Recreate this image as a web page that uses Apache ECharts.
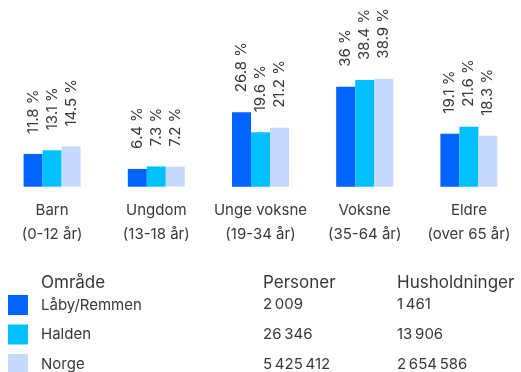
<!DOCTYPE html>
<html>
<head>
<meta charset="utf-8">
<script src="https://cdn.jsdelivr.net/npm/echarts@6/dist/echarts.min.js"></script>
<style>
  html, body { margin: 0; padding: 0; background: #ffffff; }
  #chart { width: 521px; height: 372px; }
</style>
</head>
<body>
<div id="chart"></div>
<script>
// Age groups (two-line labels)
const categories = ['Barn\n(0-12 år)', 'Ungdom\n(13-18 år)', 'Unge voksne\n(19-34 år)', 'Voksne\n(35-64 år)', 'Eldre\n(over 65 år)'];

// Share of population per age group, percent
const labyRemmen = [11.8, 6.4, 26.8, 36, 19.1];
const halden = [13.1, 7.3, 19.6, 38.4, 21.6];
const norge = [14.5, 7.2, 21.2, 38.9, 18.3];

// Area summary table
const areaNames = ['Låby/Remmen', 'Halden', 'Norge'];
const persons = ['2\u202F009', '26\u202F346', '5\u202F425\u202F412'];
const households = ['1\u202F461', '13\u202F906', '2\u202F654\u202F586'];
const tableHeaders = ['Område', 'Personer', 'Husholdninger'];

const colors = ['#0063ff', '#00c0ff', '#c4dbff'];
const textColor = '#383838';
const fontFamily = 'Inter, "Noto Sans", sans-serif';

const seriesData = [labyRemmen, halden, norge];

const chart = echarts.init(document.getElementById('chart'), null, { renderer: 'canvas' });

// vertical centres of the table rows
const headerY = 283;
const rowY = [304.5, 334.5, 364];
const colX = [41, 263, 397];

const graphics = [];
tableHeaders.forEach((h, i) => {
  graphics.push({
    type: 'text', x: colX[i], y: headerY,
    style: { text: h, fill: textColor, font: '17px ' + fontFamily, verticalAlign: 'middle', align: 'left' }
  });
});
[persons, households].forEach((col, c) => {
  col.forEach((v, r) => {
    graphics.push({
      type: 'text', x: colX[c + 1], y: rowY[r],
      style: { text: v, fill: textColor, font: '15px ' + fontFamily, verticalAlign: 'middle', align: 'left' }
    });
  });
});

chart.setOption({
  animation: false,
  color: colors,
  textStyle: { fontFamily: fontFamily },
  grid: { left: -7.1, width: 541.25, top: 47.8, height: 138.9, containLabel: false },
  xAxis: {
    type: 'category',
    data: categories,
    axisLine: { show: false },
    axisTick: { show: false },
    axisLabel: {
      color: textColor, fontSize: 15, lineHeight: 24, margin: 12,
      fontFamily: fontFamily, interval: 0
    }
  },
  yAxis: {
    type: 'value', min: 0, max: 50,
    show: false,
    splitLine: { show: false }
  },
  legend: {
    orient: 'vertical', left: 8, top: 295, height: 100,
    padding: 0,
    itemWidth: 20, itemHeight: 20, itemGap: 9.5,
    icon: 'rect',
    data: areaNames,
    textStyle: { color: textColor, fontSize: 15, fontFamily: fontFamily, padding: [0, 0, 0, 8] }
  },
  series: areaNames.map((name, i) => ({
    name: name,
    type: 'bar',
    data: seriesData[i],
    barWidth: 19,
    barGap: '0%',
    label: {
      show: true,
      position: 'top',
      rotate: 90,
      align: 'left',
      verticalAlign: 'middle',
      distance: 20,
      formatter: '{c} %',
      color: textColor,
      fontSize: 15,
      fontFamily: fontFamily
    }
  })),
  graphic: graphics
});
</script>
</body>
</html>
